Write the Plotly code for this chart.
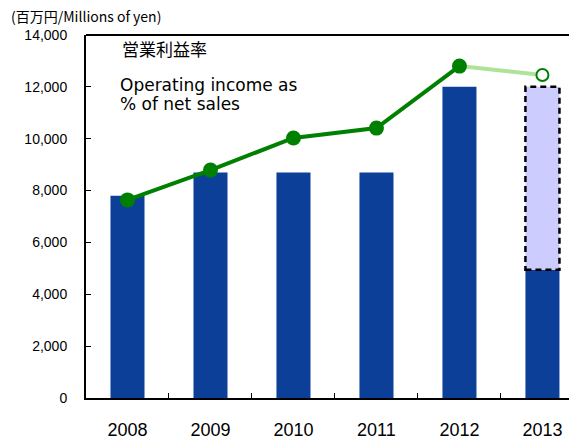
import plotly.graph_objects as go

years = ["2008", "2009", "2010", "2011", "2012", "2013"]
income = [7800, 8700, 8700, 8700, 12000, 4950]          # actual operating income (dark bars)
forecast_year = "2013"
forecast_low = 4950
forecast_high = 12000                                   # forecast total (light dashed bar)
margin_actual = [7.64, 8.79, 10.03, 10.41, 12.80]       # operating margin 2008-2012
margin_forecast = [12.80, 12.46]                        # 2012 -> 2013 forecast
y_ticks = [0, 2000, 4000, 6000, 8000, 10000, 12000, 14000]

BAR_W = 0.41
DARK = "#0c4098"
LIGHT = "#ccccff"
GREEN = "#008000"
LGREEN = "#b0e39a"

fig = go.Figure()
fig.add_trace(go.Bar(x=years, y=income, width=BAR_W, marker=dict(color=DARK, line=dict(width=0)),
                     showlegend=False))
fig.add_trace(go.Bar(x=[forecast_year], y=[forecast_high - forecast_low], base=[forecast_low],
                     width=BAR_W, marker=dict(color=LIGHT, line=dict(width=0)), showlegend=False))
fig.add_trace(go.Scatter(x=years[4:6], y=margin_forecast, yaxis="y2", mode="lines",
                         line=dict(color=LGREEN, width=4), showlegend=False))
fig.add_trace(go.Scatter(x=years[:5], y=margin_actual, yaxis="y2", mode="lines+markers",
                         line=dict(color=GREEN, width=4),
                         marker=dict(size=15, color=GREEN), showlegend=False))
fig.add_trace(go.Scatter(x=[years[5]], y=[margin_forecast[1]], yaxis="y2", mode="markers",
                         marker=dict(size=12, color="white", line=dict(color=GREEN, width=2)),
                         showlegend=False))

fi = years.index(forecast_year)
fig.add_shape(type="rect", xref="x", yref="y", x0=fi - BAR_W / 2, x1=fi + BAR_W / 2,
              y0=forecast_low, y1=forecast_high,
              line=dict(color="black", width=2.5, dash="6px,4px"), fillcolor="rgba(0,0,0,0)")
fig.add_shape(type="line", xref="paper", yref="paper", x0=0, x1=1, y0=1, y1=1,
              line=dict(color="black", width=2))

fig.add_annotation(text="(百万円/Millions of yen)", xref="paper", yref="paper",
                   x=-0.159, y=1.052, xanchor="left", yanchor="middle", showarrow=False,
                   font=dict(family="Noto Sans CJK JP", size=14, color="black"))
fig.add_annotation(text="営業利益率", xref="paper", yref="paper",
                   x=0.07, y=0.964, xanchor="left", yanchor="middle", showarrow=False,
                   font=dict(family="Noto Sans CJK JP", size=17, color="black"))
fig.add_annotation(text="Operating income as", xref="paper", yref="paper",
                   x=0.068, y=0.862, xanchor="left", yanchor="middle", showarrow=False,
                   borderpad=0, font=dict(family="DejaVu Sans", size=17, color="black"))
fig.add_annotation(text="% of net sales", xref="paper", yref="paper",
                   x=0.068, y=0.81, xanchor="left", yanchor="middle", showarrow=False,
                   borderpad=0, font=dict(family="DejaVu Sans", size=17, color="black"))

fig.update_layout(
    width=569, height=440, margin=dict(l=86, r=0, t=35, b=42),
    paper_bgcolor="white", plot_bgcolor="white", barmode="overlay", showlegend=False,
    font=dict(family="Liberation Sans", color="black"),
    xaxis=dict(type="category", range=[-0.5, 5.32], tickson="boundaries", ticks="inside",
               ticklen=5, tickcolor="black", tickwidth=1, showline=True, linecolor="black",
               linewidth=2, showgrid=False, tickfont=dict(size=18), ticklabelstandoff=14,
               automargin=False),
    yaxis=dict(range=[0, 14000], tickvals=y_ticks, tickformat=",", ticks="inside", ticklen=5,
               tickcolor="black", showline=True, linecolor="black", linewidth=2,
               showgrid=False, zeroline=False, tickfont=dict(size=14), ticklabelstandoff=14,
               automargin=False),
    yaxis2=dict(range=[0, 14], overlaying="y", visible=False),
)

fig.write_html("out.html", config={"displayModeBar": False},
               post_script="document.body.style.margin='0px';")
